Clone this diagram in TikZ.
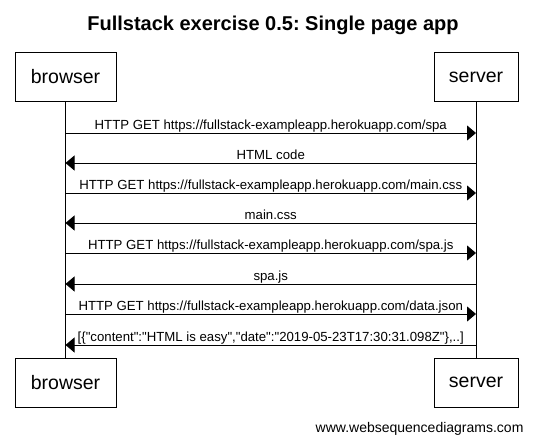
\documentclass[tikz,border=0pt]{standalone}
\usepackage{fontspec}
\setmainfont{Liberation Sans}
\newfontfamily\plainfont{Liberation Sans}
\usetikzlibrary{arrows.meta}
\frenchspacing
\tikzset{
  actor/.style={draw=black, line width=0.9pt, inner sep=0pt, minimum height=49pt,
    font=\fontsize{19.5}{22}\selectfont},
  lifeline/.style={draw=black, line width=0.9pt},
  msg/.style={draw=black, line width=0.9pt, -{Triangle[length=9pt,width=15pt]}},
  lbl/.style={pos=0.5, anchor=base, yshift=4pt, inner sep=0pt,
    font=\plainfont\fontsize{13.2}{16}\selectfont},
}
\begin{document}
\begin{tikzpicture}[x=1pt,y=-1pt]
\useasboundingbox[fill=white] (0,0) rectangle (535,442);
\node[anchor=base, font=\fontsize{20}{24}\bfseries\selectfont] (title) at (273,30) {Fullstack exercise 0.5:\ Single page app};
\node[actor, minimum width=101pt] (bt) at (65.5,77) {browser};
\node[actor, minimum width=84pt] (st) at (476,77) {server};
\node[actor, minimum width=101pt] (bb) at (65.5,382.5) {browser};
\node[actor, minimum width=84pt] (sb) at (476,382.5) {server};
\draw[lifeline] (bt.south) -- (bb.north);
\draw[lifeline] (st.south) -- (sb.north);
\foreach \i/\y in {1/133,2/163,3/193,4/223,5/253,6/284,7/314,8/345}{
  \coordinate (b\i) at (65.5,\y);
  \coordinate (s\i) at (476,\y);
}
\draw[msg] (b1) -- node[lbl]{HTTP GET https://fullstack-exampleapp.herokuapp.com/spa} (s1);
\draw[msg] (s2) -- node[lbl]{HTML code} (b2);
\draw[msg] (b3) -- node[lbl]{HTTP GET https://fullstack-exampleapp.herokuapp.com/main.css} (s3);
\draw[msg] (s4) -- node[lbl]{main.css} (b4);
\draw[msg] (b5) -- node[lbl]{HTTP GET https://fullstack-exampleapp.herokuapp.com/spa.js} (s5);
\draw[msg] (s6) -- node[lbl]{spa.js} (b6);
\draw[msg] (b7) -- node[lbl]{HTTP GET https://fullstack-exampleapp.herokuapp.com/data.json} (s7);
\draw[msg] (s8) -- node[lbl]{[\{"content":"HTML is easy","date":"2019-05-23T17:30:31.098Z"\},..]} (b8);
\node[anchor=base east, font=\fontsize{14}{16}\selectfont] (footer) at (527,432) {www.websequencediagrams.com};
\end{tikzpicture}
\end{document}
